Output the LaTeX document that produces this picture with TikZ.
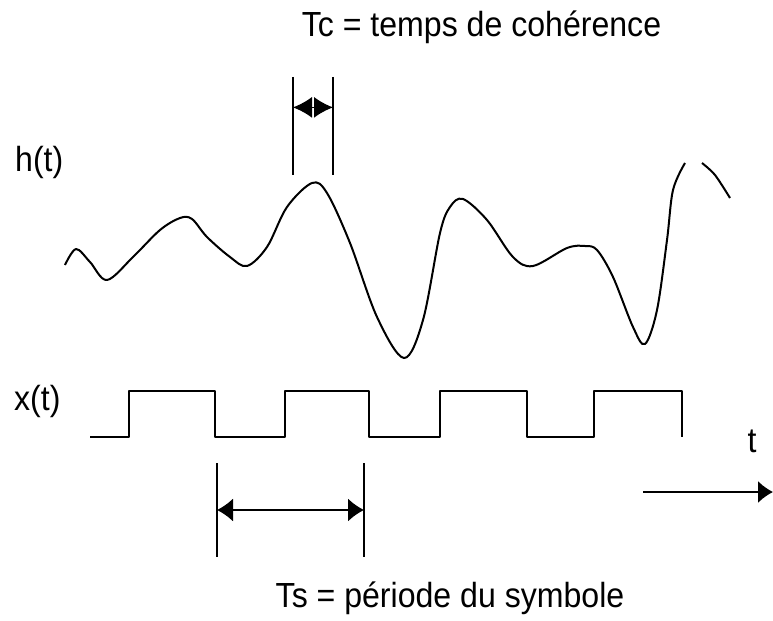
\documentclass[tikz,border=0pt]{standalone}
\usepackage{fontspec}
\setmainfont{Liberation Sans}
\usetikzlibrary{arrows.meta, calc}

\newcommand{\narrowtxt}[1]{\scalebox{0.92}[1]{#1}}
\tikzset{
  lbl/.style = {font=\fontsize{35}{42}\selectfont, inner sep=0pt, anchor=base},
  sig/.style = {line width=2bp, line join=round},
  tickline/.style = {line width=1.4bp},
}

\begin{document}
\begin{tikzpicture}[x=1bp, y=-1bp]
\useasboundingbox (0,0) rectangle (773,621);
\def\lo{437}
\def\hi{391}
% Labels
\node[lbl] (tc) at (481.5,37) {\narrowtxt{Tc = temps de cohérence}};
\node[lbl] (ts) at (450,607) {\narrowtxt{Ts = période du symbole}};
\node[lbl, anchor=base west] (h) at (15,172) {\narrowtxt{h(t)}};
\node[lbl, anchor=base west] (x) at (14,410) {\narrowtxt{x(t)}};
\node[lbl] (t) at (752,452) {\narrowtxt{t}};

% Channel response h(t)
\draw[sig] plot[smooth, tension=0.55] coordinates {
  (65,265) (76,249) (90,262) (107,280) (133,257) (160,230) (180,218) (192,219)
  (207,237) (230,257) (247,266) (267,247) (287,207) (312,183) (327,193)
  (350,243) (377,317) (404,358) (423,320) (440,233) (450,207) (463,199)
  (487,220) (513,257) (533,266) (567,248) (585,246) (597,250) (613,277)
  (633,327) (645,344) (657,310) (667,240) (673,190) (685,163)};
\draw[sig] plot[smooth] coordinates {(702,163) (715,175) (730,198)};

% Coherence time
\coordinate (c1t) at (293,77);  \coordinate (c1b) at (293,175);
\coordinate (c2t) at (333,77);  \coordinate (c2b) at (333,175);
\draw[tickline] (c1t) -- (c1b);
\draw[tickline] (c2t) -- (c2b);
\draw[tickline, {Latex[length=19bp,width=21bp]}-{Latex[length=19bp,width=21bp]}]
  ($(c1t)!0.31!(c1b)$) -- ($(c2t)!0.31!(c2b)$);

% Symbols x(t)
\draw[sig] (90,\lo) -- (129,\lo) -- (129,\hi) -- (215,\hi) -- (215,\lo)
  -- (285,\lo) -- (285,\hi) -- (369,\hi) -- (369,\lo)
  -- (440,\lo) -- (440,\hi) -- (527,\hi) -- (527,\lo)
  -- (594,\lo) -- (594,\hi) -- (682,\hi) -- (682,\lo);

% Symbol period
\coordinate (s1t) at (217,463);  \coordinate (s1b) at (217,557);
\coordinate (s2t) at (364,463);  \coordinate (s2b) at (364,557);
\draw[tickline] (s1t) -- (s1b);
\draw[tickline] (s2t) -- (s2b);
\draw[tickline, {Latex[length=16bp,width=23bp]}-{Latex[length=16bp,width=23bp]}]
  ($(s1t)!0.5!(s1b)$) -- ($(s2t)!0.5!(s2b)$);

% Time axis
\coordinate (ta) at (643,492);
\coordinate (tb) at (773,492);
\draw[tickline, -{Latex[length=15bp,width=22bp]}] (ta) -- (tb);
\end{tikzpicture}
\end{document}
